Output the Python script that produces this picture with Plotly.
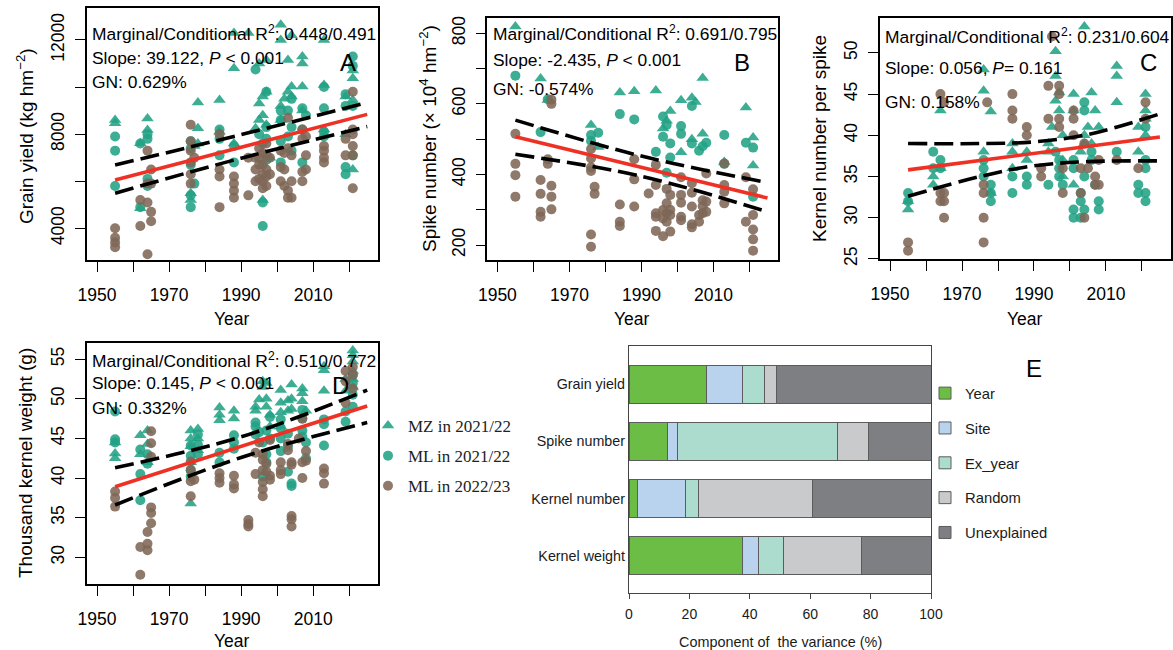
import plotly.graph_objects as go

W, H = 1173, 650
SANS = "Liberation Sans, Arial, sans-serif"
SERIF = "Liberation Serif, Times New Roman, serif"

# ---------------- Panel A : grain yield (kg hm-2) ----------------
gy_mz_year = [1955, 1955, 1962, 1962, 1964, 1964, 1976, 1976, 1977, 1978, 1978, 1978, 1984, 1984,
              1988, 1988, 1988, 1992, 1994, 1995, 1995, 1995, 1996, 1996, 1996, 1997, 1997, 1997,
              1998, 2001, 2001, 2001, 2001, 2002, 2003, 2003, 2004, 2004, 2004, 2007, 2007, 2007,
              2007, 2013, 2013, 2013, 2019, 2019, 2021, 2021, 2021, 2021]
gy_mz = [8600, 8460, 7610, 4850, 8670, 8180, 5490, 5200, 7500, 9340, 8250, 7600, 9450, 8100,
         10800, 12300, 7600, 12300, 8250, 11000, 9300, 8600, 9600, 8800, 5200, 11150, 9800, 8400,
         7000, 12650, 12000, 9200, 8600, 9500, 11150, 9800, 10020, 9600, 12200, 11300, 10020, 9000,
         11000, 12000, 10090, 8200, 9600, 8000, 10700, 10370, 9450, 6500]
gy_ml21_year = [1955, 1955, 1955, 1962, 1962, 1964, 1964, 1964, 1964, 1976, 1976, 1976, 1976, 1976,
                1977, 1984, 1984, 1984, 1988, 1988, 1994, 1995, 1996, 1996, 1996, 1997, 1997, 1997,
                1997, 2001, 2001, 2001, 2001, 2003, 2003, 2004, 2004, 2004, 2007, 2007, 2007, 2008,
                2013, 2013, 2013, 2013, 2019, 2019, 2019, 2019, 2021, 2021, 2021, 2021]
gy_ml21 = [7900, 7300, 5800, 7600, 4900, 8000, 7800, 6100, 5800, 7700, 7400, 6700, 5400, 4900,
           5900, 8200, 7800, 7100, 7500, 6800, 10750, 8000, 7600, 5100, 4100, 9800, 8300, 7800,
           6900, 9000, 8600, 7700, 6800, 9000, 7900, 9500, 8300, 7300, 9100, 8200, 6800, 8800,
           10000, 9100, 8100, 7900, 9700, 9200, 6600, 6300, 11300, 10900, 9200, 7100]
gy_ml22_year = [1955, 1955, 1955, 1955, 1962, 1962, 1964, 1964, 1964, 1964, 1965, 1965, 1965, 1965,
                1976, 1976, 1976, 1976, 1976, 1976, 1977, 1984, 1984, 1984, 1984, 1988, 1988, 1988,
                1988, 1992, 1992, 1994, 1994, 1994, 1995, 1995, 1995, 1995, 1996, 1996, 1996, 1996,
                1996, 1997, 1997, 1997, 1997, 1997, 1998, 1998, 2001, 2001, 2001, 2002, 2002, 2002,
                2003, 2003, 2003, 2003, 2004, 2004, 2004, 2007, 2007, 2007, 2007, 2008, 2008, 2008,
                2013, 2013, 2013, 2013, 2019, 2019, 2021, 2021, 2021, 2021, 2021, 2021]
gy_ml22 = [4000, 3600, 3400, 3200, 5200, 4100, 7300, 5900, 5100, 2900, 6500, 5900, 4700, 4300,
           8400, 7700, 7300, 6800, 6300, 5900, 7000, 8000, 6500, 6200, 4900, 6200, 5900, 5600,
           5300, 7000, 5400, 7000, 6500, 6000, 7400, 7000, 6700, 6100, 7200, 6700, 6300, 6000,
           5700, 7600, 7100, 6500, 6200, 5800, 7000, 6300, 7300, 6600, 6000, 7200, 6500, 5800,
           8700, 7400, 5600, 5300, 7100, 6000, 5300, 8200, 7800, 6400, 6000, 7900, 7100, 6500,
           7500, 7300, 7000, 6800, 7800, 7100, 9800, 8200, 8000, 7500, 7100, 5700]
gy_fit = [6053, 7455, 8840]
gy_upper = [6690, 7980, 9340]
gy_lower = [5490, 6980, 8320]

# ---------------- Panel B : spike number (x10^4 hm-2) ----------------
sn_mz_year = [1955, 1962, 1964, 1976, 1978, 1984, 1988, 1994, 1996, 1997, 1998, 2001, 2001, 2004,
              2004, 2005, 2007, 2007, 2013, 2019, 2021, 2021]
sn_mz = [819, 672, 611, 540, 478, 632, 636, 638, 530, 552, 580, 610, 463, 617,
         500, 605, 673, 515, 435, 590, 505, 425]
sn_ml21_year = [1955, 1962, 1964, 1976, 1976, 1978, 1984, 1988, 1994, 1996, 1996, 1997, 1997, 1998,
                1998, 2001, 2001, 2004, 2004, 2006, 2007, 2008, 2013, 2013, 2019, 2021, 2021]
sn_ml21 = [680, 520, 613, 512, 495, 518, 571, 556, 464, 507, 564, 540, 405, 488,
           448, 537, 515, 594, 488, 467, 480, 490, 512, 430, 490, 476, 337]
sn_ml22_year = [1955, 1955, 1955, 1955, 1962, 1962, 1962, 1962, 1964, 1964, 1965, 1965, 1965, 1965,
                1965, 1976, 1976, 1976, 1976, 1976, 1976, 1977, 1977, 1984, 1984, 1984, 1988, 1988,
                1988, 1992, 1994, 1994, 1994, 1994, 1994, 1996, 1996, 1996, 1997, 1997, 1997, 1997,
                1998, 1998, 1998, 1998, 2001, 2001, 2001, 2001, 2001, 2004, 2004, 2004, 2004, 2004,
                2006, 2006, 2007, 2007, 2007, 2008, 2008, 2008, 2013, 2013, 2013, 2013, 2019, 2019,
                2021, 2021, 2021, 2021, 2021]
sn_ml22 = [515, 430, 398, 337, 384, 345, 294, 280, 443, 430, 600, 612, 368, 337,
           301, 472, 445, 420, 410, 230, 195, 365, 345, 315, 266, 254, 443, 386,
           309, 346, 427, 370, 290, 280, 240, 225, 299, 275, 359, 318, 290, 266,
           342, 300, 285, 238, 392, 342, 320, 280, 270, 375, 348, 309, 259, 250,
           285, 266, 327, 310, 290, 403, 323, 294, 431, 370, 351, 318, 392, 266,
           358, 285, 244, 216, 184]
sn_fit = [507, 419, 333]
sn_upper = [554, 452, 377]
sn_lower = [457, 395, 294]

# ---------------- Panel C : kernel number per spike ----------------
kn_mz_year = [1955, 1955, 1962, 1962, 1964, 1964, 1976, 1976, 1976, 1978, 1978, 1984, 1984, 1984,
              1988, 1988, 1994, 1994, 1996, 1996, 1996, 1995, 1997, 1997, 1998, 1998, 1998, 2001,
              2001, 2001, 2003, 2004, 2004, 2004, 2005, 2006, 2007, 2006, 2008, 2013, 2013, 2013,
              2019, 2019, 2021, 2021, 2021, 2021]
kn_mz = [31, 32, 35, 34, 43, 36, 48, 45.4, 38, 42.9, 33, 39, 38, 36,
         38, 37, 39, 38, 50.2, 47.2, 44.2, 41, 45.2, 43, 40, 37, 35, 45,
         43, 34, 38, 53.2, 40, 39, 41, 45.2, 43, 39, 41, 48.4, 47.2, 44,
         41, 38, 45, 43, 42, 40]
kn_ml21_year = [1955, 1955, 1962, 1962, 1964, 1964, 1976, 1976, 1976, 1978, 1978, 1978, 1984, 1984,
                1988, 1988, 1994, 1996, 1997, 1997, 1997, 1998, 2001, 2001, 2001, 2001, 2003, 2003,
                2003, 2004, 2004, 2004, 2004, 2006, 2006, 2007, 2008, 2008, 2013, 2019, 2019, 2021,
                2021, 2021, 2021, 2021]
kn_ml21 = [33, 32, 38, 36, 37, 36, 37, 36, 35, 34, 33, 32, 35, 33,
           35, 34, 34, 38, 37, 36, 35, 34, 37, 36, 31, 30, 33, 32,
           30, 44, 43, 35, 31, 38, 37, 34, 32, 31, 38, 34, 33, 41,
           37, 36, 33, 32]
kn_ml22_year = [1955, 1955, 1964, 1964, 1964, 1965, 1965, 1965, 1965, 1976, 1976, 1976, 1976, 1977,
                1984, 1984, 1984, 1988, 1988, 1992, 1992, 1994, 1994, 1995, 1997, 1997, 1997, 1997,
                1998, 1998, 2001, 2001, 2001, 2003, 2003, 2004, 2004, 2005, 2007, 2007, 2008, 2008,
                2013, 2019, 2021, 2021]
kn_ml22 = [27, 26, 33, 32, 45, 44, 30, 33, 32, 34, 33, 30, 27, 44,
           45, 43, 42, 41, 40, 36, 35, 46, 42, 52, 46, 45, 42, 41,
           36, 33, 43, 42, 40, 36, 33, 39, 30, 36, 35, 34, 37, 34,
           37, 36, 44, 42]
kn_fit_year = [1955, 1975, 1990, 2005, 2025]
kn_fit = [35.8, 36.94, 37.8, 38.66, 39.8]
kn_upper = [39.0, 39.0, 39.2, 40.1, 42.6]
kn_lower = [32.6, 35.0, 36.3, 36.8, 36.9]

# ---------------- Panel D : thousand kernel weight (g) ----------------
kw_mz_year = [1955, 1955, 1955, 1962, 1962, 1964, 1964, 1964, 1976, 1976, 1976, 1976, 1976, 1978,
              1978, 1978, 1984, 1984, 1984, 1988, 1988, 1994, 1994, 1995, 1996, 1996, 1997, 1997,
              1997, 1998, 1998, 2001, 2001, 2001, 2001, 2003, 2003, 2004, 2004, 2004, 2007, 2007,
              2007, 2008, 2013, 2013, 2013, 2019, 2019, 2021, 2021, 2021, 2021, 2021, 2021]
kw_mz = [43.1, 42.5, 44.5, 45.4, 43, 46, 44.3, 42, 46, 45, 44, 42, 36.8, 46.2,
         45, 43.5, 48.9, 48, 47.3, 48.5, 47.5, 49, 48.5, 49.9, 52.2, 51.5, 52, 50,
         49, 48, 46.5, 51.1, 49.5, 48.3, 46.5, 49.8, 48.5, 51.8, 50, 48.7, 51.3, 50.7,
         49.7, 48.5, 54.1, 53.6, 51, 52.5, 51, 56.1, 55.5, 54.7, 53.5, 52.5, 51.5]
kw_ml21_year = [1955, 1955, 1955, 1962, 1962, 1962, 1964, 1964, 1976, 1976, 1976, 1976, 1978, 1978,
                1978, 1984, 1984, 1988, 1988, 1988, 1994, 1994, 1994, 1995, 1996, 1996, 1997, 1997,
                1997, 1998, 1998, 2001, 2001, 2001, 2001, 2003, 2003, 2003, 2004, 2004, 2007, 2007,
                2007, 2007, 2008, 2008, 2013, 2013, 2013, 2019, 2019, 2021, 2021, 2021, 2021]
kw_ml21 = [48.4, 44.9, 44.5, 43.6, 40.5, 37.2, 43, 41.8, 44.1, 42.8, 41, 40.2, 45.5, 44.2,
           43, 43.2, 42, 45.4, 44.5, 43.7, 47, 46.5, 45.5, 45.8, 44.5, 40.2, 46, 43,
           42, 47.7, 45, 47.4, 46.3, 45, 43.4, 45.6, 44, 40.8, 39.3, 39, 48.6, 47.5,
           46, 45.2, 44.5, 42.5, 47.4, 46.8, 44.1, 48.4, 47.1, 53, 52, 50.5, 49]
kw_ml22_year = [1955, 1955, 1955, 1962, 1962, 1964, 1964, 1964, 1965, 1965, 1965, 1965, 1965, 1965,
                1976, 1976, 1976, 1976, 1977, 1984, 1984, 1984, 1988, 1988, 1988, 1992, 1992, 1992,
                1994, 1994, 1995, 1996, 1996, 1996, 1996, 1996, 1996, 1997, 1997, 1998, 1998, 1998,
                2001, 2001, 2001, 2003, 2003, 2004, 2004, 2004, 2004, 2004, 2006, 2007, 2007, 2007,
                2008, 2008, 2013, 2013, 2013, 2019, 2019, 2019, 2021, 2021, 2021]
kw_ml22 = [38.3, 37.5, 36.4, 31.3, 27.8, 33.2, 31.7, 30.9, 45.9, 44.4, 42.7, 36.3, 35.6, 34.3,
           42.1, 41, 39.6, 37.7, 39.8, 40.6, 40, 39.4, 40.3, 39.2, 38.7, 34.7, 34.2, 33.9,
           40.5, 43.2, 44.5, 43, 42.3, 41, 39.5, 38.6, 37.7, 40.8, 41.8, 40.3, 39.8, 44.8,
           42, 41, 40.5, 43.5, 44.3, 42, 41.7, 35.2, 34.8, 33.9, 45, 47.5, 42, 40,
           43.4, 42.2, 41.2, 40.6, 39.3, 53.5, 52.2, 49.5, 54, 53, 51.3]
kw_fit = [38.9, 44.0, 49.1]
kw_upper = [41.3, 45.2, 51.1]
kw_lower = [36.6, 42.6, 47.0]

fit_year = [1955, 1990, 2025]

# ---------------- Panel E : variance components (%) ----------------
traits = ["Grain yield", "Spike number", "Kernel number", "Kernel weight"]
comp_names = ["Year", "Site", "Ex_year", "Random", "Unexplained"]
comp_year = [25.5, 12.6, 2.8, 37.6]
comp_site = [12.1, 3.4, 15.8, 5.4]
comp_exyear = [7.3, 53.1, 4.3, 8.2]
comp_random = [3.9, 10.3, 37.8, 25.9]
comp_unexpl = [51.2, 20.6, 39.3, 22.9]

x_major = [1950, 1970, 1990, 2010]
x_minor = [1960, 1980, 2000, 2020]

# ----------------------------------------------------------------------
def fx(p):
    return p / W


def fy(p):
    return 1 - p / H


TEAL = "rgba(34,162,133,0.88)"
BROWN = "rgba(126,103,86,0.88)"
RED = "#ee3124"

fig = go.Figure()

panels = [
    dict(ax="", mz=(gy_mz_year, gy_mz), m21=(gy_ml21_year, gy_ml21), m22=(gy_ml22_year, gy_ml22),
         fy_=fit_year, fit=gy_fit, up=gy_upper, lo=gy_lower, legend=False),
    dict(ax="2", mz=(sn_mz_year, sn_mz), m21=(sn_ml21_year, sn_ml21), m22=(sn_ml22_year, sn_ml22),
         fy_=fit_year, fit=sn_fit, up=sn_upper, lo=sn_lower, legend=False),
    dict(ax="3", mz=(kn_mz_year, kn_mz), m21=(kn_ml21_year, kn_ml21), m22=(kn_ml22_year, kn_ml22),
         fy_=kn_fit_year, fit=kn_fit, up=kn_upper, lo=kn_lower, legend=False),
    dict(ax="4", mz=(kw_mz_year, kw_mz), m21=(kw_ml21_year, kw_ml21), m22=(kw_ml22_year, kw_ml22),
         fy_=fit_year, fit=kw_fit, up=kw_upper, lo=kw_lower, legend=True),
]

for p in panels:
    xa, ya = "x" + p["ax"], "y" + p["ax"]
    fig.add_trace(go.Scatter(x=p["mz"][0], y=p["mz"][1], mode="markers", xaxis=xa, yaxis=ya,
                             name="MZ in 2021/22", legendgroup="g1", showlegend=p["legend"],
                             marker=dict(symbol="triangle-up", size=11, color=TEAL, line=dict(width=0))))
    fig.add_trace(go.Scatter(x=p["m21"][0], y=p["m21"][1], mode="markers", xaxis=xa, yaxis=ya,
                             name="ML in 2021/22", legendgroup="g2", showlegend=p["legend"],
                             marker=dict(symbol="circle", size=10, color=TEAL, line=dict(width=0))))
    fig.add_trace(go.Scatter(x=p["m22"][0], y=p["m22"][1], mode="markers", xaxis=xa, yaxis=ya,
                             name="ML in 2022/23", legendgroup="g3", showlegend=p["legend"],
                             marker=dict(symbol="circle", size=10, color=BROWN, line=dict(width=0))))
    for band in (p["up"], p["lo"]):
        fig.add_trace(go.Scatter(x=p["fy_"], y=band, mode="lines", xaxis=xa, yaxis=ya, showlegend=False,
                                 line=dict(color="black", width=3.6, dash="19px,7px", shape="spline")))
    fig.add_trace(go.Scatter(x=p["fy_"], y=p["fit"], mode="lines", xaxis=xa, yaxis=ya, showlegend=False,
                             line=dict(color=RED, width=3.6)))

bar_cols = ["#6cbd45", "#b9d3ee", "#acdccd", "#c9cacc", "#7e7f83"]
for name, vals, col in zip(comp_names, [comp_year, comp_site, comp_exyear, comp_random, comp_unexpl], bar_cols):
    fig.add_trace(go.Bar(x=vals, y=traits, orientation="h", name=name, xaxis="x5", yaxis="y5",
                         legend="legend2", legendgroup=name,
                         marker=dict(color=col, line=dict(color="#5c5c5c", width=1))))

tickfont = dict(family=SANS, size=17.5, color="black")


def xaxis(dom, anchor):
    return dict(domain=[fx(dom[0]), fx(dom[1])], anchor=anchor, range=[1947.2, 2028],
                tickmode="array", tickvals=x_major, tickformat="d",
                ticks="outside", ticklen=10, tickwidth=1.3, tickcolor="black",
                minor=dict(tickmode="array", tickvals=x_minor, ticks="outside", ticklen=10,
                           tickwidth=1.3, tickcolor="black", showgrid=False),
                showline=True, linecolor="black", linewidth=1.6, mirror=True, automargin=False,
                showgrid=False, zeroline=False, tickfont=tickfont, ticklabelstandoff=8)


def yaxis(dom, anchor, rng, vals, minor_vals):
    return dict(domain=[fy(dom[1]), fy(dom[0])], anchor=anchor, range=rng,
                tickmode="array", tickvals=vals, tickformat="d", tickangle=-90,
                ticks="outside", ticklen=10, tickwidth=1.3, tickcolor="black",
                minor=dict(tickmode="array", tickvals=minor_vals, ticks="outside", ticklen=10,
                           tickwidth=1.3, tickcolor="black", showgrid=False),
                showline=True, linecolor="black", linewidth=1.6, mirror=True, automargin=False,
                showgrid=False, zeroline=False, tickfont=tickfont, ticklabelstandoff=4)


fig.update_layout(
    width=W, height=H, margin=dict(l=0, r=0, t=0, b=0, pad=0, autoexpand=False),
    paper_bgcolor="white", plot_bgcolor="white", barmode="stack", bargap=0.33,
    font=dict(family=SANS, color="black"),
    xaxis=xaxis((87, 378), "y"),
    yaxis=yaxis((8, 260), "x", [2654, 13359], [4000, 8000, 12000], [6000, 10000]),
    xaxis2=xaxis((487.3, 778.3), "y2"),
    yaxis2=yaxis((18.3, 260), "x2", [157.5, 842.5], [200, 400, 600, 800], [300, 500, 700]),
    xaxis3=xaxis((880, 1170.7), "y3"),
    yaxis3=yaxis((18.3, 259.3), "x3", [24.95, 54.2], [25, 30, 35, 40, 45, 50], []),
    xaxis4=xaxis((87, 378), "y4"),
    yaxis4=yaxis((343.3, 584.3), "x4", [26.6, 57.0], [30, 35, 40, 45, 50, 55], []),
    xaxis5=dict(domain=[fx(629), fx(931)], anchor="y5", range=[0, 100],
                tickvals=[0, 20, 40, 60, 80, 100], ticks="outside", ticklen=5, tickcolor="#444",
                showline=True, linecolor="#444", linewidth=1.3, mirror=True, showgrid=False,
                zeroline=False, automargin=False, tickfont=dict(family=SANS, size=14, color="#1a1a1a"),
                ticklabelstandoff=3),
    yaxis5=dict(domain=[fy(593), fy(346)], anchor="x5", type="category",
                categoryorder="array", categoryarray=traits[::-1], range=[-0.65, 3.67],
                ticks="", showline=True, linecolor="#444", linewidth=1.3, mirror=True,
                showgrid=False, zeroline=False, automargin=False,
                tickfont=dict(family=SANS, size=14.3, color="#1a1a1a")),
    legend=dict(x=fx(368), y=fy(408), xanchor="left", yanchor="top", bgcolor="rgba(0,0,0,0)",
                font=dict(family=SERIF, size=17, color="#222"), traceorder="grouped",
                tracegroupgap=5),
    legend2=dict(x=fx(925), y=fy(377), xanchor="left", yanchor="top", bgcolor="rgba(0,0,0,0)",
                 font=dict(family=SANS, size=14.8, color="#1a1a1a"), traceorder="grouped",
                 tracegroupgap=12.6),
)

ann = []


def text(x, y, s, size=17.4, anchor="left", angle=0, family=SANS, color="black"):
    ann.append(dict(x=fx(x), y=fy(y), xref="paper", yref="paper", text=s, showarrow=False,
                    xanchor=anchor, yanchor="middle", textangle=angle, borderpad=0,
                    font=dict(family=family, size=size, color=color)))


stats = [
    (91, [33, 58, 82], ["Marginal/Conditional R<sup>2</sup>: 0.448/0.491",
                        "Slope: 39.122, <i>P</i> &lt; 0.001", "GN: 0.629%"]),
    (492, [33, 60, 89], ["Marginal/Conditional R<sup>2</sup>: 0.691/0.795",
                         "Slope: -2.435, <i>P</i> &lt; 0.001", "GN: -0.574%"]),
    (884, [36, 68, 102], ["Marginal/Conditional R<sup>2</sup>: 0.231/0.604",
                          "Slope: 0.056, <i>P</i>= 0.161", "GN: 0.158%"]),
    (91, [360, 383, 408], ["Marginal/Conditional R<sup>2</sup>: 0.510/0.772",
                           "Slope: 0.145, <i>P</i> &lt; 0.001", "GN: 0.332%"]),
]
for x0, ys, lines in stats:
    for yy, s in zip(ys, lines):
        text(x0, yy, s)

for letter, x, y in [("A", 348, 62), ("B", 742, 62), ("C", 1148, 62), ("D", 340, 385), ("E", 1034, 368)]:
    text(x, y, letter, size=24, anchor="center")

text(25, 136, "Grain yield (kg hm<sup>−2</sup>)", size=19, anchor="center", angle=-90)
text(428, 139, "Spike number (× 10<sup>4</sup> hm<sup>−2</sup>)", size=19, anchor="center", angle=-90)
text(820, 139, "Kernel number per spike", size=19, anchor="center", angle=-90)
text(25, 463, "Thousand kernel weight (g)", size=19, anchor="center", angle=-90)
for x in (232, 632, 1025):
    text(x, 319, "Year", size=17.5, anchor="center")
text(232, 641, "Year", size=17.5, anchor="center")
text(780, 642, "Component of \u00a0the variance (%)", size=14.4, anchor="center", color="#1a1a1a")

fig.update_layout(annotations=ann)
fig.write_html("out.html", config={"displayModeBar": False},
               post_script="document.body.style.margin='0px';")
